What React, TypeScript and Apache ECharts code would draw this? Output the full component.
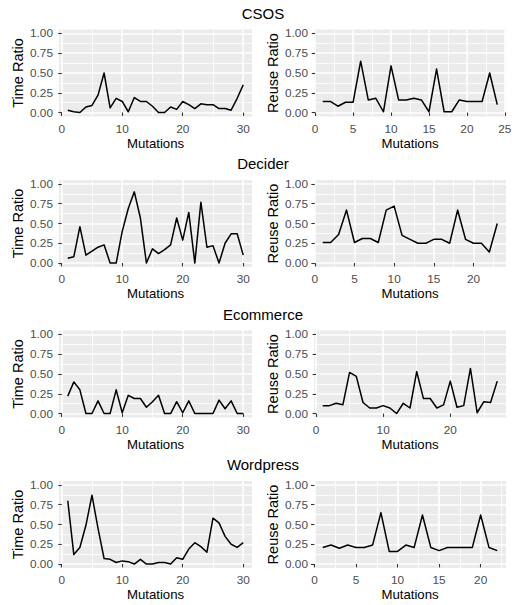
import React, { useEffect, useRef } from "react";
import * as echarts from "echarts";

const panelTitles = ["CSOS", "Decider", "Ecommerce", "Wordpress"];
const yTitles = ["Time Ratio", "Reuse Ratio"];
const xTitle = "Mutations";
const yTicks = [0, 0.25, 0.5, 0.75, 1];

const csosTime = [0.03, 0.01, 0.0, 0.07, 0.09, 0.22, 0.5, 0.06, 0.18, 0.14, 0.01, 0.19, 0.14, 0.14, 0.08, 0.0, 0.0, 0.07, 0.04, 0.14, 0.1, 0.05, 0.11, 0.1, 0.1, 0.05, 0.05, 0.03, 0.18, 0.35];
const csosReuse = [0.14, 0.14, 0.08, 0.13, 0.13, 0.65, 0.16, 0.18, 0.01, 0.59, 0.16, 0.16, 0.18, 0.16, 0.01, 0.55, 0.01, 0.01, 0.16, 0.14, 0.14, 0.14, 0.5, 0.1];
const deciderTime = [0.06, 0.08, 0.46, 0.1, 0.15, 0.2, 0.23, 0.0, 0.0, 0.4, 0.69, 0.9, 0.57, 0.0, 0.18, 0.12, 0.17, 0.23, 0.57, 0.29, 0.64, 0.0, 0.77, 0.2, 0.22, 0.0, 0.25, 0.37, 0.37, 0.1];
const deciderReuse = [0.26, 0.26, 0.36, 0.67, 0.26, 0.31, 0.31, 0.26, 0.67, 0.72, 0.35, 0.3, 0.25, 0.25, 0.3, 0.3, 0.25, 0.67, 0.3, 0.25, 0.25, 0.14, 0.5];
const ecommerceTime = [0.22, 0.4, 0.3, 0.0, 0.0, 0.16, 0.0, 0.0, 0.3, 0.01, 0.23, 0.19, 0.19, 0.08, 0.15, 0.23, 0.0, 0.0, 0.15, 0.01, 0.16, 0.0, 0.0, 0.0, 0.0, 0.17, 0.06, 0.16, 0.0, 0.0];
const ecommerceReuse = [0.1, 0.1, 0.13, 0.11, 0.52, 0.47, 0.14, 0.07, 0.07, 0.1, 0.07, 0.0, 0.13, 0.07, 0.53, 0.19, 0.19, 0.07, 0.11, 0.41, 0.08, 0.1, 0.57, 0.01, 0.15, 0.14, 0.41];
const wordpressTime = [0.8, 0.12, 0.21, 0.49, 0.87, 0.45, 0.07, 0.06, 0.02, 0.04, 0.03, 0.0, 0.06, 0.0, 0.0, 0.02, 0.02, 0.0, 0.08, 0.06, 0.19, 0.27, 0.22, 0.15, 0.58, 0.52, 0.35, 0.25, 0.21, 0.27];
const wordpressReuse = [0.21, 0.24, 0.2, 0.24, 0.21, 0.21, 0.24, 0.65, 0.16, 0.16, 0.24, 0.21, 0.62, 0.21, 0.17, 0.21, 0.21, 0.21, 0.21, 0.62, 0.21, 0.17];

const xTicks30 = [0, 10, 20, 30];
const xTicksCsosReuse = [0, 5, 10, 15, 20, 25];
const xTicksDeciderReuse = [0, 5, 10, 15, 20];
const xTicksEcommerceReuse = [0, 10, 20];
const xTicksWordpressReuse = [0, 5, 10, 15, 20];

const panels = [
  { data: csosTime, ticks: xTicks30 },
  { data: csosReuse, ticks: xTicksCsosReuse },
  { data: deciderTime, ticks: xTicks30 },
  { data: deciderReuse, ticks: xTicksDeciderReuse },
  { data: ecommerceTime, ticks: xTicks30 },
  { data: ecommerceReuse, ticks: xTicksEcommerceReuse },
  { data: wordpressTime, ticks: xTicks30 },
  { data: wordpressReuse, ticks: xTicksWordpressReuse },
];

const FONT = "'Liberation Sans', Arial, Helvetica, sans-serif";
const ROW_TOP = 29.5;
const ROW_STEP = 150.5;
const PANEL_H = 87;

export default function App() {
  const ref = useRef<HTMLDivElement>(null);
  useEffect(() => {
    if (!ref.current) return;
    const chart = echarts.init(ref.current, undefined, { renderer: "svg" });
    const grids: any[] = [];
    const xAxes: any[] = [];
    const yAxes: any[] = [];
    const series: any[] = [];
    panels.forEach((p, i) => {
      const row = Math.floor(i / 2);
      const col = i % 2;
      grids.push({
        left: col === 0 ? 59 : 314,
        top: ROW_TOP + ROW_STEP * row,
        width: col === 0 ? 193 : 192,
        height: PANEL_H,
        show: true,
        backgroundColor: "#EBEBEB",
        borderWidth: 0,
        containLabel: false,
      });
      const n = p.data.length;
      const span = n - 1;
      const step = p.ticks[1] - p.ticks[0];
      xAxes.push({
        type: "value",
        gridIndex: i,
        min: 1 - 0.05 * span,
        max: n + 0.05 * span,
        minInterval: step,
        maxInterval: step,
        axisLine: { show: false },
        axisTick: { show: true, length: 3.4, customValues: p.ticks, lineStyle: { color: "#333333", width: 1.1 } },
        axisLabel: { show: true, customValues: p.ticks, margin: 6, color: "#4D4D4D", fontSize: 11.8, fontFamily: FONT, formatter: (v: number) => String(v) },
        splitLine: { show: true, lineStyle: { color: "#FFFFFF", width: 1.6 } },
        minorTick: { show: false, splitNumber: 2 },
        minorSplitLine: { show: true, lineStyle: { color: "#FFFFFF", width: 0.8 } },
        name: xTitle,
        nameLocation: "middle",
        nameGap: 20,
        nameTextStyle: { color: "#000000", fontSize: 13.2, fontFamily: FONT },
      });
      yAxes.push({
        type: "value",
        gridIndex: i,
        min: -0.05,
        max: 1.05,
        minInterval: 0.25,
        maxInterval: 0.25,
        axisLine: { show: false },
        axisTick: { show: true, length: 3.4, customValues: yTicks, lineStyle: { color: "#333333", width: 1.1 } },
        axisLabel: { show: true, customValues: yTicks, margin: 6, color: "#4D4D4D", fontSize: 11.8, fontFamily: FONT, formatter: (v: number) => v.toFixed(2) },
        splitLine: { show: true, lineStyle: { color: "#FFFFFF", width: 1.6 } },
        minorTick: { show: false, splitNumber: 2 },
        minorSplitLine: { show: true, lineStyle: { color: "#FFFFFF", width: 0.8 } },
        name: yTitles[col],
        nameLocation: "middle",
        nameGap: 34,
        nameTextStyle: { color: "#000000", fontSize: 14.5, fontFamily: FONT },
      });
      series.push({
        type: "line",
        xAxisIndex: i,
        yAxisIndex: i,
        data: p.data.map((v, k) => [k + 1, v]),
        showSymbol: false,
        symbol: "none",
        lineStyle: { color: "#000000", width: 1.5, join: "round" },
        silent: true,
      });
    });
    chart.setOption({
      animation: false,
      backgroundColor: "#FFFFFF",
      grid: grids,
      xAxis: xAxes,
      yAxis: yAxes,
      series,
      graphic: panelTitles.map((t, r) => ({
        type: "text",
        x: 263,
        y: 13.3 + ROW_STEP * r,
        style: { text: t, fontSize: 15, fontFamily: FONT, fill: "#000000", align: "center", verticalAlign: "middle" },
      })),
    });
    return () => chart.dispose();
  }, []);
  return <div ref={ref} style={{ position: "absolute", left: 0, top: 0, width: 521, height: 605 }} />;
}
